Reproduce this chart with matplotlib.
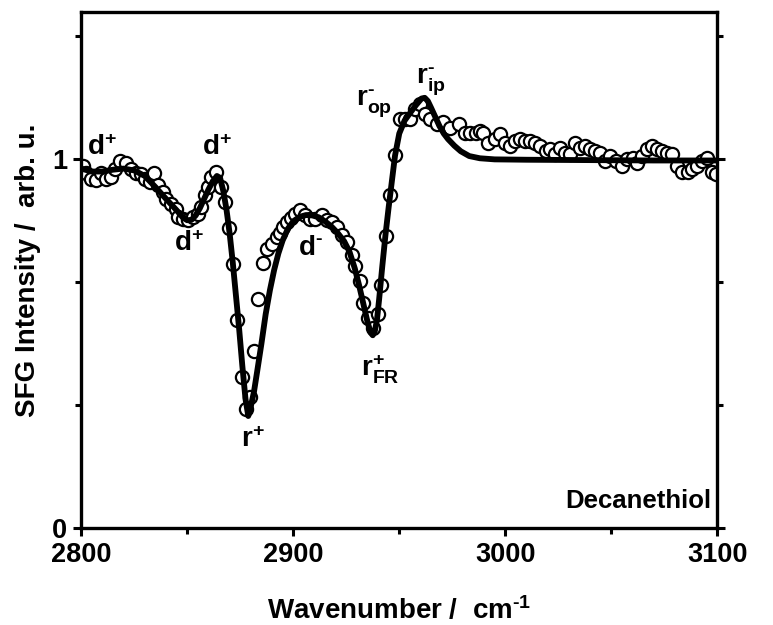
import numpy as np
import matplotlib.pyplot as plt
from matplotlib.ticker import MultipleLocator

plt.rcParams['font.family'] = 'Liberation Sans'
plt.rcParams['font.weight'] = 'bold'
plt.rcParams['mathtext.fontset'] = 'custom'
plt.rcParams['mathtext.rm'] = 'Liberation Sans:bold'
plt.rcParams['mathtext.it'] = 'Liberation Sans:bold'
plt.rcParams['mathtext.bf'] = 'Liberation Sans:bold'

# measured SFG spectrum (open circles)
wn_data = [2801, 2802.4, 2804.7, 2807, 2809.4, 2811.8, 2814, 2816, 2818.4, 2821,
           2823.6, 2826, 2828.3, 2830, 2832.5, 2834.4, 2836, 2838.7, 2840, 2842.5,
           2844.8, 2845.7, 2848, 2850.5, 2852.8, 2855, 2856.6, 2858.5, 2860, 2861.3,
           2863.7, 2866, 2868, 2869.8, 2871.7, 2873.6, 2876, 2877.8, 2879.7, 2881.6,
           2883.5, 2885.8, 2887.7, 2890, 2892.5, 2893.9, 2895.3, 2897, 2899, 2901,
           2903, 2905.6, 2908, 2910.4, 2913.7, 2916, 2918.4, 2920.8, 2923, 2925.5,
           2927.8, 2929.2, 2931.6, 2933, 2935.4, 2937.7, 2940, 2941.5, 2943.9, 2945.8,
           2948, 2950.5, 2952.8, 2955.2, 2957.5, 2960, 2962.3, 2964.6, 2968, 2970.8,
           2974, 2978, 2981, 2983.5, 2986, 2988, 2989.6, 2992, 2995, 2997.6,
           3000, 3002.4, 3004.7, 3007, 3009.4, 3011.8, 3014, 3016.5, 3019, 3021,
           3023.6, 3026, 3028, 3030.7, 3033, 3035.4, 3037.7, 3040, 3042.5, 3044.8,
           3047, 3049.5, 3052, 3055, 3057.5, 3060, 3062, 3064.6, 3067, 3069,
           3071.7, 3074, 3076.4, 3078.8, 3081, 3083.5, 3086, 3088, 3090.6, 3093,
           3095, 3097.6, 3099.5]
sfg_data = [0.981, 0.962, 0.948, 0.945, 0.962, 0.948, 0.953, 0.973, 0.995, 0.989,
            0.973, 0.962, 0.959, 0.948, 0.940, 0.962, 0.931, 0.912, 0.893, 0.879,
            0.866, 0.844, 0.838, 0.836, 0.844, 0.852, 0.871, 0.904, 0.926, 0.953,
            0.967, 0.926, 0.885, 0.814, 0.715, 0.564, 0.411, 0.323, 0.356, 0.479,
            0.622, 0.718, 0.756, 0.770, 0.789, 0.800, 0.816, 0.830, 0.840, 0.852,
            0.863, 0.849, 0.838, 0.838, 0.849, 0.836, 0.830, 0.816, 0.795, 0.775,
            0.742, 0.712, 0.671, 0.611, 0.570, 0.542, 0.581, 0.660, 0.792, 0.904,
            1.011, 1.110, 1.110, 1.110, 1.137, 1.150, 1.123, 1.110, 1.096, 1.100,
            1.085, 1.096, 1.071, 1.071, 1.071, 1.077, 1.071, 1.044, 1.055, 1.068,
            1.044, 1.036, 1.049, 1.055, 1.049, 1.049, 1.044, 1.036, 1.022, 1.027,
            1.014, 1.030, 1.016, 1.014, 1.044, 1.030, 1.036, 1.027, 1.022, 1.016,
            0.995, 1.008, 0.995, 0.981, 1.000, 1.003, 0.989, 1.008, 1.027, 1.036,
            1.027, 1.022, 1.016, 1.014, 0.981, 0.967, 0.967, 0.975, 0.981, 0.995,
            1.003, 0.967, 0.960]

# fitted curve (solid line)
wn_fit = [2800, 2805, 2810, 2815, 2820, 2825, 2830, 2835, 2840, 2845,
          2848, 2850, 2852, 2854, 2856, 2858, 2860, 2862, 2864, 2865.5,
          2867, 2868.5, 2870, 2871.5, 2873, 2874.5, 2876, 2877.5, 2878.8, 2880,
          2881.5, 2883, 2885, 2887, 2889, 2891, 2893, 2895, 2897.5, 2900,
          2903, 2906, 2909, 2912, 2915, 2918, 2921, 2924, 2926.5, 2929,
          2931, 2933, 2935, 2936.5, 2937.5, 2938.5, 2939.5, 2940.5, 2942, 2943.5,
          2945, 2946.5, 2948, 2950, 2952.5, 2955, 2958, 2960.5, 2962, 2963.5,
          2965, 2967, 2969, 2971, 2973, 2976, 2979, 2983, 2988, 2995,
          3010, 3040, 3070, 3100]
sfg_fit = [0.975, 0.967, 0.967, 0.972, 0.975, 0.970, 0.955, 0.925, 0.893, 0.862,
           0.842, 0.835, 0.836, 0.848, 0.868, 0.893, 0.918, 0.940, 0.955, 0.950,
           0.915, 0.865, 0.800, 0.720, 0.630, 0.540, 0.440, 0.350, 0.304, 0.330,
           0.370, 0.425, 0.500, 0.580, 0.645, 0.700, 0.745, 0.780, 0.812, 0.832,
           0.844, 0.849, 0.848, 0.843, 0.832, 0.818, 0.800, 0.778, 0.750, 0.705,
           0.660, 0.610, 0.560, 0.530, 0.523, 0.535, 0.565, 0.620, 0.710, 0.795,
           0.870, 0.940, 1.010, 1.070, 1.105, 1.125, 1.148, 1.165, 1.167, 1.158,
           1.140, 1.115, 1.090, 1.070, 1.055, 1.037, 1.022, 1.009, 1.003, 1.000,
           0.999, 0.998, 0.997, 0.997]

# peak assignments
labels = [r'$\mathbf{d^{+}}$', r'$\mathbf{d^{+}}$', r'$\mathbf{d^{+}}$', r'$\mathbf{d}^{\text{-}}$',
          r'$\mathbf{r^{+}}$', r'$\mathbf{r^{+}_{FR}}$', r'$\mathbf{r}^{\text{-}}_{\mathbf{op}}$',
          r'$\mathbf{r}^{\text{-}}_{\mathbf{ip}}$']
label_x = [2810, 2864, 2851, 2908, 2881, 2941, 2938, 2965]
label_y = [1.03, 1.03, 0.77, 0.76, 0.24, 0.43, 1.15, 1.21]

fig = plt.figure(figsize=(7.73, 6.25), dpi=100)
ax = fig.add_axes([0.105, 0.155, 0.823, 0.826])

ax.plot(wn_data, sfg_data, 'o', mfc='white', mec='black', ms=9.5, mew=1.6, zorder=2)
ax.plot(wn_fit, sfg_fit, '-', color='black', lw=4.2, zorder=3)

for t, x, y in zip(labels, label_x, label_y):
    ax.text(x, y, t, fontsize=20, ha='center', va='center')

ax.text(0.99, 0.03, 'Decanethiol', transform=ax.transAxes, fontsize=18.5,
        fontweight='bold', ha='right', va='bottom')

ax.set_xlim(2800, 3100)
ax.set_ylim(0, 1.4)
ax.xaxis.set_major_locator(MultipleLocator(100))
ax.xaxis.set_minor_locator(MultipleLocator(50))
ax.yaxis.set_major_locator(MultipleLocator(1))
ax.yaxis.set_minor_locator(MultipleLocator(1 / 3))

ax.tick_params(which='both', direction='out', width=2.2, right=True,
               labelsize=19.5, pad=4)
ax.tick_params(which='major', length=6)
ax.tick_params(which='minor', length=4)
for s in ax.spines.values():
    s.set_linewidth(2.4)

ax.set_xlabel(r'Wavenumber /  cm$^{\text{-1}}$', fontsize=20, fontweight='bold', labelpad=20)
ax.set_ylabel('SFG Intensity /  arb. u.', fontsize=20, fontweight='bold', labelpad=8)

fig.savefig('out.png', dpi=100)
